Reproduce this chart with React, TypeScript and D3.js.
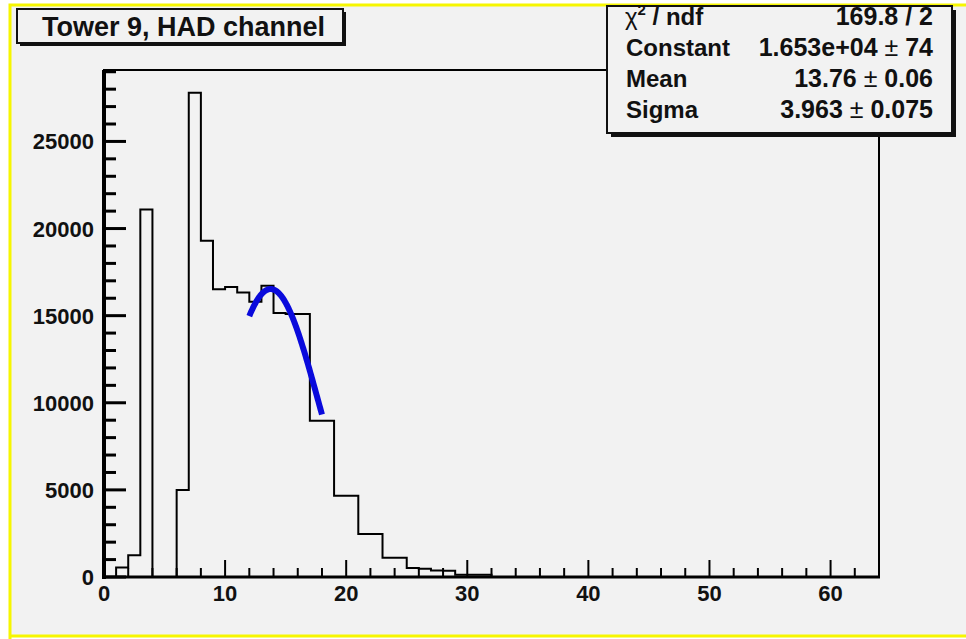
import React, { useEffect, useRef } from "react";
import * as d3 from "d3";

// histogram: bins of width 1 starting at 0
const binLow = [
  0, 1, 2, 3, 4, 5, 6, 7, 8, 9, 10, 11, 12, 13, 14, 15, 16, 17, 18, 19, 20, 21,
  22, 23, 24, 25, 26, 27, 28, 29, 30, 31, 32, 33, 34, 35, 36, 37, 38, 39, 40, 41,
  42, 43, 44, 45, 46, 47, 48, 49, 50, 51, 52, 53, 54, 55, 56, 57, 58, 59, 60, 61,
  62, 63,
];
const counts = [
  0, 550, 1250, 21100, 0, 0, 5000, 27800, 19300, 16520, 16650, 16330, 15800,
  16710, 15150, 15100, 15100, 8970, 8970, 4670, 4670, 2475, 2475, 1100, 1100,
  520, 480, 380, 360, 125, 125, 125, 0, 0, 0, 0, 0, 0, 0, 0, 0, 0, 0, 0, 0, 0, 0,
  0, 0, 0, 0, 0, 0, 0, 0, 0, 0, 0, 0, 0, 0, 0, 0, 0,
];

const xTicks = [0, 10, 20, 30, 40, 50, 60];
const yTicks = [0, 5000, 10000, 15000, 20000, 25000];

// gaussian fit shown in the stats box
const fitRange = [12, 18];
const fitConstant = 16530;
const fitMean = 13.76;
const fitSigma = 3.963;

const statLabels = ["Constant", "Mean", "Sigma"];
const statValues = ["1.653e+04", "13.76", "3.963"];
const statErrors = ["74", "0.06", "0.075"];

const title = "Tower 9, HAD channel";
const FONT = "'Liberation Sans', Arial, Helvetica, sans-serif";

export default function App() {
  const ref = useRef(null);

  useEffect(() => {
    const svg = d3.select(ref.current);
    svg.selectAll("*").remove();

    // pad background + yellow border
    svg.append("rect").attr("width", 966).attr("height", 639).attr("fill", "#ffffff");
    svg.append("rect").attr("x", 11).attr("y", 6).attr("width", 955).attr("height", 629).attr("fill", "#f2f2f2");
    svg.append("path")
      .attr("d", "M10,639 V5 H966 M10,636 H966")
      .attr("stroke", "#f6f600").attr("stroke-width", 3).attr("fill", "none");

    const x = d3.scaleLinear().domain([0, 64]).range([104, 879]);
    const y = d3.scaleLinear().domain([0, 29100]).range([577, 70]);

    // frame
    svg.append("rect")
      .attr("x", x(0)).attr("y", y(29100))
      .attr("width", x(64) - x(0)).attr("height", y(0) - y(29100))
      .attr("fill", "none").attr("stroke", "#000").attr("stroke-width", 2);

    // histogram outline
    const pts = binLow.map((b, i) => [b, counts[i]]);
    pts.push([64, 0]);
    const step = d3.line()
      .x((d) => x(d[0]))
      .y((d) => y(d[1]))
      .curve(d3.curveStepAfter);
    svg.append("path")
      .attr("d", step(pts))
      .attr("fill", "none").attr("stroke", "#000").attr("stroke-width", 2);

    // axes
    const g = svg.append("g");
    g.append("line").attr("x1", x(0)).attr("x2", x(0)).attr("y1", y(29100)).attr("y2", y(0) + 2)
      .attr("stroke", "#000").attr("stroke-width", 4);
    g.append("line").attr("x1", x(0) - 2).attr("x2", x(64) + 1).attr("y1", y(0)).attr("y2", y(0))
      .attr("stroke", "#000").attr("stroke-width", 3);

    // y ticks
    d3.range(0, 29001, 1000).forEach((v) => {
      const major = v % 5000 === 0;
      g.append("line").attr("x1", x(0)).attr("x2", x(0) + (major ? 22 : 12))
        .attr("y1", y(v)).attr("y2", y(v)).attr("stroke", "#000").attr("stroke-width", 3);
    });
    yTicks.forEach((v) => {
      g.append("text").attr("x", x(0) - 10).attr("y", y(v) + 8)
        .attr("text-anchor", "end").attr("font-family", FONT).attr("font-weight", "bold")
        .attr("font-size", 22).attr("fill", "#111").text(v);
    });

    // x ticks
    d3.range(0, 64.1, 2).forEach((v) => {
      const major = v % 10 === 0;
      g.append("line").attr("x1", x(v)).attr("x2", x(v))
        .attr("y1", y(0)).attr("y2", y(0) - (major ? 17 : 9))
        .attr("stroke", "#000").attr("stroke-width", 2);
    });
    xTicks.forEach((v) => {
      g.append("text").attr("x", x(v)).attr("y", y(0) + 24)
        .attr("text-anchor", "middle").attr("font-family", FONT).attr("font-weight", "bold")
        .attr("font-size", 22).attr("fill", "#111").text(v);
    });

    // fit curve
    const fx = d3.range(fitRange[0], fitRange[1] + 0.001, 0.05);
    const gauss = (v) => fitConstant * Math.exp(-0.5 * ((v - fitMean) / fitSigma) ** 2);
    svg.append("path")
      .attr("d", d3.line().x((d) => x(d)).y((d) => y(gauss(d)))(fx))
      .attr("fill", "none").attr("stroke", "#0a0adc").attr("stroke-width", 6);

    // title box
    const tb = svg.append("g");
    tb.append("rect").attr("x", 20).attr("y", 12).attr("width", 326).attr("height", 34).attr("fill", "#111");
    tb.append("rect").attr("x", 17).attr("y", 9).attr("width", 326).attr("height", 34)
      .attr("fill", "#f2f2f2").attr("stroke", "#111").attr("stroke-width", 2);
    tb.append("text").attr("x", 42).attr("y", 36).attr("font-family", FONT).attr("font-weight", "bold")
      .attr("font-size", 27).attr("fill", "#111").text(title);

    // stats box
    const sb = svg.append("g");
    sb.append("rect").attr("x", 611).attr("y", 10).attr("width", 345).attr("height", 127).attr("fill", "#111");
    sb.append("rect").attr("x", 607).attr("y", 6).attr("width", 345).attr("height", 127)
      .attr("fill", "#f2f2f2").attr("stroke", "#111").attr("stroke-width", 2);

    const rowY = [25, 56, 87, 118];
    const chi = sb.append("text").attr("x", 625).attr("y", rowY[0]).attr("font-family", FONT)
      .attr("font-size", 24).attr("fill", "#111");
    chi.append("tspan").text("χ");
    chi.append("tspan").attr("font-size", 15).attr("dy", -10).attr("font-weight", "bold").text("2");
    chi.append("tspan").attr("dy", 10).attr("font-weight", "bold").text(" / ndf");
    sb.append("text").attr("x", 933).attr("y", rowY[0]).attr("text-anchor", "end")
      .attr("font-family", FONT).attr("font-weight", "bold").attr("font-size", 25).attr("fill", "#111")
      .text("169.8 / 2");

    statLabels.forEach((lab, i) => {
      sb.append("text").attr("x", 626).attr("y", rowY[i + 1]).attr("font-family", FONT)
        .attr("font-weight", "bold").attr("font-size", 24).attr("fill", "#111").text(lab);
      const t = sb.append("text").attr("x", 933).attr("y", rowY[i + 1]).attr("text-anchor", "end")
        .attr("font-family", FONT).attr("font-size", 25).attr("fill", "#111");
      t.append("tspan").attr("font-weight", "bold").text(statValues[i] + " ");
      t.append("tspan").attr("font-weight", "normal").text("±");
      t.append("tspan").attr("font-weight", "bold").text(" " + statErrors[i]);
    });
  }, []);

  return (
    <svg
      ref={ref}
      width={966}
      height={639}
      style={{ position: "absolute", left: 0, top: 0 }}
    ></svg>
  );
}
